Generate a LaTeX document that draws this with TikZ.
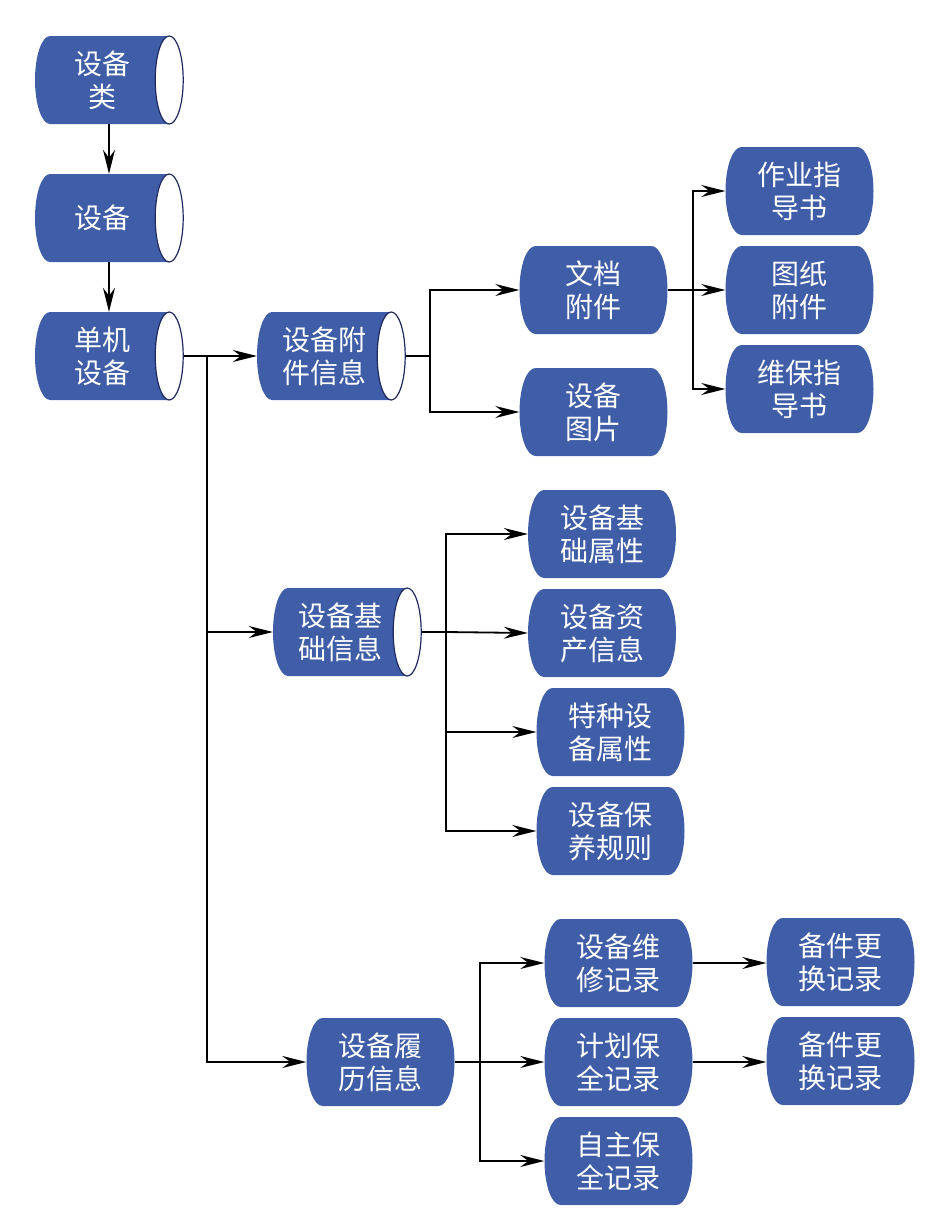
\documentclass[tikz,border=0pt]{standalone}
\usepackage{fontspec}
\newfontfamily\cjkfont{Noto Sans CJK SC}
\usetikzlibrary{shapes.geometric,arrows.meta}
\definecolor{nodeblue}{RGB}{63,94,167}
\definecolor{capnavy}{RGB}{32,42,96}

\begin{document}
\begin{tikzpicture}[x=1pt,y=-1pt,
    boxtext/.style={rectangle,minimum height=88pt,inner sep=0pt,
        text=white,align=center,font=\cjkfont\fontsize{28}{33}\selectfont},
    tank/.style={boxtext,minimum width=134pt,
        path picture={\fill[nodeblue]
            ([xshift=15pt]path picture bounding box.north west)
            -- (path picture bounding box.north east)
            -- (path picture bounding box.south east)
            -- ([xshift=15pt]path picture bounding box.south west)
            arc[start angle=270,end angle=90,x radius=15pt,y radius=44pt] -- cycle;}},
    capend/.style={ellipse,minimum width=28pt,minimum height=88pt,inner sep=0pt,
        fill=white,draw=capnavy,line width=1.2pt},
    leaf/.style={boxtext,minimum width=148pt,
        path picture={\fill[nodeblue]
            ([xshift=16pt]path picture bounding box.north west)
            -- ([xshift=-16pt]path picture bounding box.north east)
            arc[start angle=90,end angle=-90,x radius=16pt,y radius=44pt]
            -- ([xshift=16pt]path picture bounding box.south west)
            arc[start angle=270,end angle=90,x radius=16pt,y radius=44pt] -- cycle;}},
    link/.style={line width=1.8pt,-{Stealth[length=24pt,width=12pt,inset=8pt]}},
    trunk/.style={line width=1.8pt}]
\useasboundingbox (0,0) rectangle (942,1226);

% main chain
\node (cls)  [tank] at (102,80)  {设备\\类};
\node (dev)  [tank] at (102,218) {设备};
\node (unit) [tank] at (102,356) {单机\\设备};
\node (clscap)  [capend] at (cls.east)  {};
\node (devcap)  [capend] at (dev.east)  {};
\node (unitcap) [capend] at (unit.east) {};

% second level
\node (att)  [tank] at (324,356) {设备附\\件信息};
\node (base) [tank] at (340,632) {设备基\\础信息};
\node (attcap)  [capend] at (att.east)  {};
\node (basecap) [capend] at (base.east) {};
\node (hist) [leaf] at (380.5,1062) {设备履\\历信息};

% attachments
\node (doc) [leaf] at (593.5,290) {文档\\附件};
\node (pic) [leaf] at (593.5,412) {设备\\图片};
\node (job) [leaf] at (799.5,191) {作业指\\导书};
\node (drw) [leaf] at (799.5,290) {图纸\\附件};
\node (mnt) [leaf] at (799.5,389) {维保指\\导书};

% base info
\node (bprop) [leaf] at (602,534)   {设备基\\础属性};
\node (asset) [leaf] at (602,633)   {设备资\\产信息};
\node (spec)  [leaf] at (610.5,732) {特种设\\备属性};
\node (rule)  [leaf] at (610.5,831) {设备保\\养规则};

% history
\node (rep)    [leaf] at (618.5,963)  {设备维\\修记录};
\node (plan)   [leaf] at (618.5,1062) {计划保\\全记录};
\node (self)   [leaf] at (618.5,1161) {自主保\\全记录};
\node (spare1) [leaf] at (840.5,962)  {备件更\\换记录};
\node (spare2) [leaf] at (840.5,1061) {备件更\\换记录};

% junctions
\coordinate (j1) at (207,356);
\coordinate (j2) at (430,356);
\coordinate (j3) at (693,290);
\coordinate (j4) at (446,632);
\coordinate (j5) at (480,1062);

\draw[link] ([xshift=7pt]cls.south) -- ([xshift=7pt]dev.north);
\draw[link] ([xshift=7pt]dev.south) -- ([xshift=7pt]unit.north);

\draw[trunk] (unitcap.east) -- (j1);
\draw[link] (j1) -- (att.west);
\draw[link] (j1) |- (base.west);
\draw[link] (j1) |- (hist.west);

\draw[trunk] (attcap.east) -- (j2);
\draw[link] (j2) |- (doc.west);
\draw[link] (j2) |- (pic.west);

\draw[trunk] (doc.east) -- (j3);
\draw[link] (j3) |- (job.west);
\draw[link] (j3) -- (drw.west);
\draw[link] (j3) |- (mnt.west);

\draw[trunk] (basecap.east) -- (j4);
\draw[link] (j4) |- (bprop.west);
\draw[link] (j4) -- (asset.west);
\draw[link] (j4) |- (spec.west);
\draw[link] (j4) |- (rule.west);

\draw[trunk] (hist.east) -- (j5);
\draw[link] (j5) |- (rep.west);
\draw[link] (j5) -- (plan.west);
\draw[link] (j5) |- (self.west);

\draw[link] (rep) -- (rep -| spare1.west);
\draw[link] (plan) -- (plan -| spare2.west);
\end{tikzpicture}
\end{document}
